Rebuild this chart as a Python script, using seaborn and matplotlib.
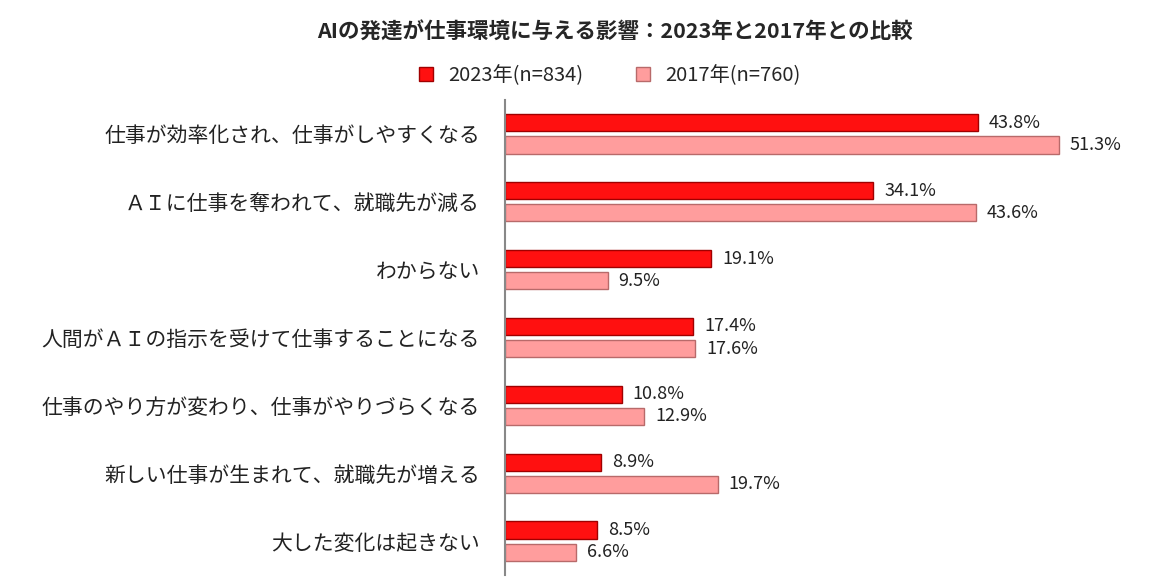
import seaborn as sns
import matplotlib.pyplot as plt
import pandas as pd
from matplotlib.lines import Line2D

# chart values
categories = [
    "仕事が効率化され、仕事がしやすくなる",
    "ＡＩに仕事を奪われて、就職先が減る",
    "わからない",
    "人間がＡＩの指示を受けて仕事することになる",
    "仕事のやり方が変わり、仕事がやりづらくなる",
    "新しい仕事が生まれて、就職先が増える",
    "大した変化は起きない",
]
series = ["2023年(n=834)", "2017年(n=760)"]
values_2023 = [43.8, 34.1, 19.1, 17.4, 10.8, 8.9, 8.5]
values_2017 = [51.3, 43.6, 9.5, 17.6, 12.9, 19.7, 6.6]

df = pd.DataFrame({
    "item": categories * 2,
    "year": [series[0]] * len(categories) + [series[1]] * len(categories),
    "pct": values_2023 + values_2017,
})

sns.set_style("white")
plt.rcParams["font.family"] = ["Noto Sans CJK JP", "DejaVu Sans"]

fig = plt.figure(figsize=(11.6, 5.88), dpi=100)
ax = fig.add_axes([0.4353, 0.022, 0.512, 0.808])

face = ["#FF1010", "#FF9D9D"]
edge = ["#A00000", "#B86A6A"]

sns.barplot(data=df, y="item", x="pct", hue="year", order=categories,
            hue_order=series, palette=face, saturation=1, width=0.65, gap=0.22,
            orient="h", legend=False, ax=ax)

for cont, ec in zip(ax.containers, edge):
    for bar in cont:
        bar.set_edgecolor(ec)
        bar.set_linewidth(1.0)
    ax.bar_label(cont, labels=[f"{v.get_width():.1f}%" for v in cont],
                 padding=8, fontsize=13, color="#222222")

ax.set_xlim(0, 55)
ax.set_ylim(6.5, -0.5)
ax.set_xlabel("")
ax.set_ylabel("")
ax.set_xticks([])
ax.tick_params(axis="y", length=0, pad=18, labelsize=15, labelcolor="#222222")
for s in ["top", "right", "bottom"]:
    ax.spines[s].set_visible(False)
ax.spines["left"].set_color("#888888")
ax.spines["left"].set_linewidth(1.5)

fig.text(0.53, 0.946, "AIの発達が仕事環境に与える影響：2023年と2017年との比較",
         ha="center", va="center", fontsize=15.5, fontweight="bold")

handles = [Line2D([], [], marker="s", linestyle="", markersize=10,
                  markerfacecolor=f, markeredgecolor=e) for f, e in zip(face, edge)]
fig.legend(handles, series, loc="center", bbox_to_anchor=(0.52, 0.872),
           ncol=2, frameon=False, fontsize=14.5, handletextpad=0.1,
           columnspacing=2.0)

fig.savefig("out.png", dpi=100)
